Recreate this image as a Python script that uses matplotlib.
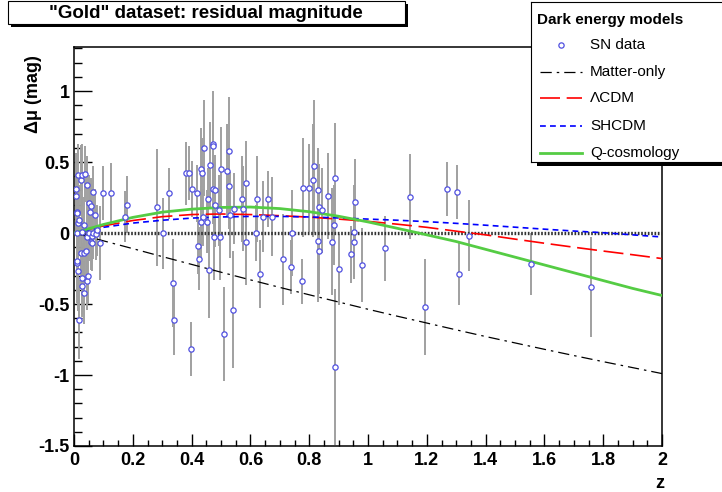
import numpy as np
import matplotlib
matplotlib.use('Agg')
import matplotlib.pyplot as plt
from matplotlib.patches import Rectangle

plt.rcParams['font.family'] = ['Liberation Sans', 'DejaVu Sans']

# SN data: redshift, residual, error
sn_z   = [0.007, 0.007, 0.009, 0.009, 0.009, 0.011, 0.011, 0.013, 0.015, 0.015,
          0.017, 0.017, 0.023, 0.023, 0.026, 0.026, 0.026, 0.028, 0.034, 0.034,
          0.035, 0.037, 0.040, 0.043, 0.045, 0.045, 0.049, 0.051, 0.051, 0.054,
          0.057, 0.057, 0.060, 0.062, 0.066, 0.066, 0.070, 0.074, 0.079, 0.088,
          0.100, 0.125,
          0.173, 0.181, 0.281, 0.302, 0.322, 0.336, 0.341, 0.381, 0.391, 0.398,
          0.402, 0.417, 0.422, 0.426, 0.432, 0.434, 0.442, 0.432, 0.440, 0.451,
          0.457, 0.460, 0.463, 0.472, 0.472, 0.474, 0.480, 0.480, 0.492, 0.477,
          0.497, 0.500, 0.510, 0.519, 0.528, 0.528, 0.531, 0.545, 0.542, 0.573,
          0.576, 0.584, 0.584, 0.618, 0.621, 0.633, 0.642, 0.659, 0.672, 0.712,
          0.737, 0.743, 0.774, 0.780, 0.800, 0.814, 0.818, 0.831, 0.834, 0.842,
          0.831, 0.834, 0.863, 0.876, 0.884, 0.888, 0.888, 0.901, 0.942, 0.952,
          0.952, 0.957, 0.980, 1.059, 1.143, 1.193, 1.268, 1.304, 1.310, 1.344,
          1.555, 1.760]
sn_dmu = [0.31, 0.26, 0.15, 0.00, -0.21, 0.14, -0.20, 0.41, 0.07, -0.27,
          0.09, -0.61, 0.37, -0.14, 0.41, 0.01, -0.32, -0.37, 0.056, -0.42,
          -0.14, 0.415, -0.13, -0.03, 0.34, -0.34, -0.30, 0.21, 0.00, 0.15,
          0.19, -0.06, -0.07, -0.02, 0.29, 0.00, 0.13, -0.01, 0.02, -0.068,
          0.28, 0.28,
          0.115, 0.20, 0.18, 0.00, 0.28, -0.35, -0.61, 0.42, 0.42, -0.82,
          0.31, 0.28, -0.09, -0.18, 0.45, 0.42, 0.60, 0.08, 0.11, 0.08,
          0.24, -0.26, 0.48, 0.63, 0.61, 0.31, 0.30, 0.20, 0.16, -0.03,
          -0.03, 0.45, -0.71, 0.44, 0.58, 0.33, 0.127, 0.17, -0.54, 0.24,
          0.17, 0.35, -0.065, 0.00, 0.24, -0.29, 0.115, 0.24, 0.115, -0.185,
          -0.24, 0.00, -0.34, 0.32, 0.32, 0.37, 0.47, 0.30, 0.185, 0.16,
          -0.054, -0.127, 0.26, -0.06, 0.056, 0.385, -0.946, -0.256, -0.15, 0.005,
          -0.06, 0.22, -0.225, -0.108, 0.255, -0.52, 0.31, 0.29, -0.29, -0.02,
          -0.22, -0.38]
sn_err = [0.25, 0.25, 0.27, 0.30, 0.28, 0.25, 0.25, 0.22, 0.30, 0.28,
          0.25, 0.28, 0.25, 0.25, 0.22, 0.25, 0.25, 0.22, 0.20, 0.22,
          0.20, 0.20, 0.20, 0.20, 0.20, 0.20, 0.20, 0.20, 0.20, 0.20,
          0.20, 0.20, 0.20, 0.18, 0.18, 0.18, 0.18, 0.18, 0.18, 0.26,
          0.19, 0.21,
          0.18, 0.20, 0.41, 0.25, 0.18, 0.31, 0.25, 0.22, 0.19, 0.19,
          0.20, 0.20, 0.20, 0.22, 0.29, 0.25, 0.34, 0.25, 0.20, 0.22,
          0.22, 0.34, 0.30, 0.37, 0.25, 0.25, 0.25, 0.30, 0.25, 0.30,
          0.30, 0.30, 0.33, 0.33, 0.38, 0.30, 0.30, 0.25, 0.41, 0.30,
          0.30, 0.30, 0.30, 0.20, 0.30, 0.24, 0.25, 0.20, 0.28, 0.32,
          0.19, 0.30, 0.16, 0.35, 0.31, 0.40, 0.47, 0.30, 0.30, 0.30,
          0.43, 0.30, 0.30, 0.38, 0.28, 0.39, 0.55, 0.25, 0.20, 0.33,
          0.25, 0.30, 0.26, 0.23, 0.30, 0.34, 0.19, 0.19, 0.22, 0.25,
          0.22, 0.35]

# model curves
zgrid   = [0, 0.05, 0.1, 0.2, 0.3, 0.4, 0.5, 0.6, 0.7, 0.8, 0.9, 1.0,
           1.1, 1.2, 1.3, 1.4, 1.5, 1.6, 1.7, 1.8, 1.9, 2.0]
matter  = [0, -0.027, -0.055, -0.110, -0.166, -0.221, -0.276, -0.330, -0.383, -0.435, -0.486, -0.537,
           -0.586, -0.634, -0.682, -0.729, -0.774, -0.819, -0.863, -0.906, -0.948, -0.990]
lcdm    = [0, 0.027, 0.050, 0.088, 0.115, 0.130, 0.134, 0.130, 0.122, 0.112, 0.098, 0.082,
           0.062, 0.040, 0.013, -0.013, -0.043, -0.072, -0.100, -0.127, -0.153, -0.180]
shcdm   = [0, 0.020, 0.040, 0.070, 0.090, 0.105, 0.113, 0.117, 0.117, 0.113, 0.106, 0.098,
           0.090, 0.080, 0.068, 0.055, 0.041, 0.027, 0.014, 0.002, -0.013, -0.028]
qcosmo  = [0, 0.030, 0.060, 0.110, 0.147, 0.168, 0.180, 0.183, 0.172, 0.150, 0.118, 0.078,
           0.033, -0.013, -0.060, -0.115, -0.170, -0.225, -0.280, -0.335, -0.390, -0.440]

W, H = 722, 492
fig = plt.figure(figsize=(W / 100, H / 100), dpi=100)
fig.patch.set_facecolor('white')

def fx(px):
    return px / W

def fy(py):
    return 1 - py / H

ax = fig.add_axes([fx(74), fy(446), (662 - 74) / W, (446 - 47) / H])

ax.errorbar(sn_z, sn_dmu, yerr=sn_err, fmt='none', ecolor='#a0a0a0',
            elinewidth=1.4, capsize=0, zorder=2)
ax.axhline(0, color='#333333', lw=2.4, ls=(0, (0.5, 0.5)), zorder=3)
ax.plot(zgrid, matter, color='black', lw=0.9, ls=(0, (9, 4, 2, 4)), zorder=4)
ax.plot(zgrid, lcdm, color='#ff0000', lw=1.2, ls=(0, (12, 4)), zorder=4)
ax.plot(zgrid, shcdm, color='#0000ff', lw=1.2, ls=(0, (3.5, 2.5)), zorder=4)
ax.plot(zgrid, qcosmo, color='#55cc44', lw=2.0, zorder=4)
ax.plot(sn_z, sn_dmu, 'o', ms=3.8, mfc='white', mec='#5050e0', mew=0.9, zorder=5)

ax.set_xlim(0, 2)
ax.set_ylim(-1.5, 1.31)
ax.set_xticks(np.arange(0, 2.01, 0.2))
ax.set_xticklabels(['0', '0.2', '0.4', '0.6', '0.8', '1', '1.2', '1.4', '1.6', '1.8', '2'])
ax.set_xticks(np.arange(0, 2.01, 0.05), minor=True)
ax.set_yticks([-1.5, -1, -0.5, 0, 0.5, 1])
ax.set_yticklabels(['-1.5', '-1', '-0.5', '0', '0.5', '1'])
ax.set_yticks(np.arange(-1.5, 1.31, 0.1), minor=True)
ax.tick_params(axis='y', which='major', direction='in', length=13, width=1, pad=3,
               labelsize=13)
ax.tick_params(axis='y', which='minor', direction='in', length=6, width=1)
ax.tick_params(axis='x', which='major', direction='in', length=9, width=1, pad=4,
               labelsize=13)
ax.tick_params(axis='x', which='minor', direction='in', length=4.5, width=1)
for lab in ax.get_xticklabels() + ax.get_yticklabels():
    lab.set_fontweight('bold')
for s in ax.spines.values():
    s.set_linewidth(1.1)

fig.text(fx(33), fy(55), 'Δμ (mag)', rotation=90, ha='center', va='top',
         fontsize=13, fontweight='bold')
fig.text(fx(664), fy(484), 'z', ha='right', va='center', fontsize=13, fontweight='bold')

# title box with shadow
fig.patches.append(Rectangle((fx(11), fy(27)), (408 - 11) / W, (27 - 4) / H,
                             transform=fig.transFigure, facecolor='black',
                             edgecolor='none', zorder=0))
fig.patches.append(Rectangle((fx(8), fy(24)), (405 - 8) / W, (24 - 1) / H,
                             transform=fig.transFigure, facecolor='white',
                             edgecolor='black', lw=0.8, zorder=1))
fig.text(fx(206), fy(13), '"Gold" dataset: residual magnitude', ha='center', va='center',
         fontsize=13.5, fontweight='bold', zorder=2)

# legend box with shadow
fig.patches.append(Rectangle((fx(537), fy(166)), (730 - 537) / W, (166 - 10) / H,
                             transform=fig.transFigure, facecolor='black',
                             edgecolor='none', zorder=0))
lax = fig.add_axes([fx(531), fy(162), (740 - 531) / W, (162 - 2) / H])
lax.set_zorder(10)
lax.set_facecolor('white')
lax.set_xlim(531, 740)
lax.set_ylim(162, 2)
lax.set_xticks([])
lax.set_yticks([])
for s in lax.spines.values():
    s.set_linewidth(0.8)
lax.text(537, 20, 'Dark energy models', fontsize=11, fontweight='bold', va='center')
rows = [45, 72, 98, 126, 153]
lax.plot([561], [rows[0]], 'o', ms=3.8, mfc='white', mec='#5050e0', mew=0.9)
lax.plot([540, 582], [rows[1]] * 2, color='black', lw=0.9, ls=(0, (9, 4, 2, 4)))
lax.plot([540, 582], [rows[2]] * 2, color='#ff0000', lw=1.2, ls=(0, (12, 4)))
lax.plot([540, 582], [rows[3]] * 2, color='#0000ff', lw=1.2, ls=(0, (3.5, 2.5)))
lax.plot([540, 582], [rows[4]] * 2, color='#55cc44', lw=2.0)
labels = ['SN data', 'Matter-only', 'ΛCDM', 'SHCDM', 'Q-cosmology']
for r, t in zip(rows, labels):
    lax.text(590, r, t, fontsize=11, va='center')

fig.savefig('out.png', dpi=100)
